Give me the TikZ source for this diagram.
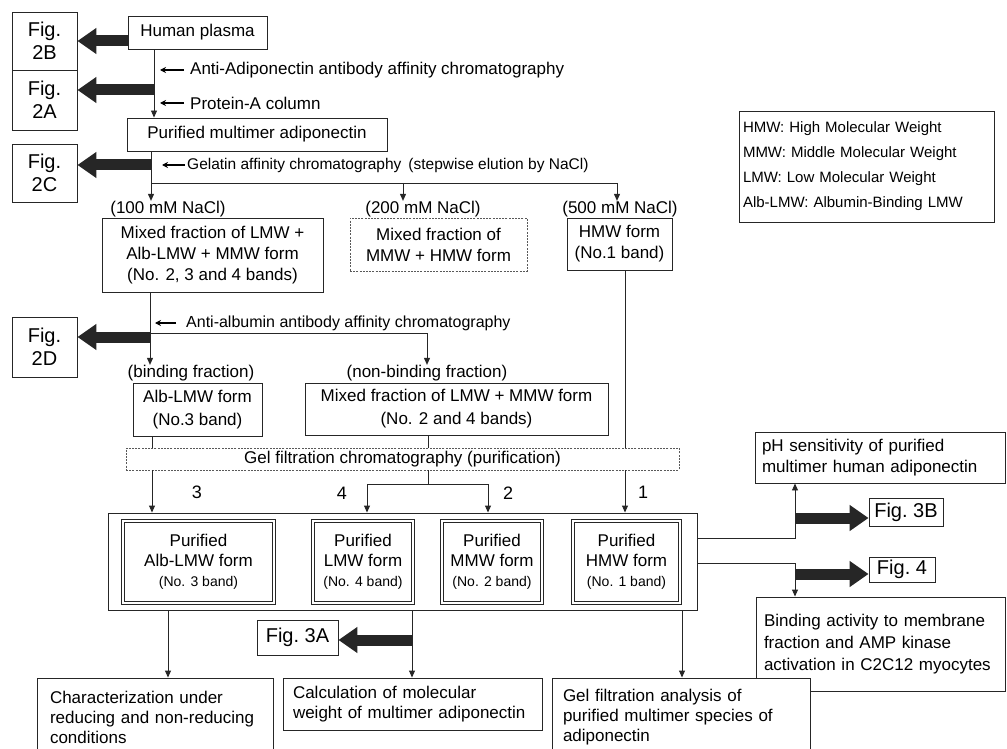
\documentclass[tikz,border=0pt]{standalone}
\usepackage{fontspec}
\setmainfont{Liberation Sans}
\usetikzlibrary{arrows.meta}
\newcommand\fsz[2]{\fontsize{#1pt}{#2pt}\selectfont}
\begin{document}
\begin{tikzpicture}[x=1pt,y=-1pt,
  box/.style={draw=black!85, line width=0.9pt, inner sep=0pt, align=center, fill=white, font=\fsz{17}{21}},
  dbox/.style={box, draw=black!65, dash pattern=on 2pt off 1.2pt},
  pbox/.style={draw=black!85, double, double distance=1.8pt, line width=0.7pt, inner sep=0pt, align=center, fill=white, font=\fsz{17}{20}},
  lbox/.style={box, align=left},
  figbox/.style={box, font=\fsz{20}{23}},
  conn/.style={draw=black!85, line width=0.9pt},
  arr/.style={conn, -{Triangle[length=7pt,width=6pt]}},
  sarr/.style={draw=black, line width=1.3pt, -{Stealth[length=6pt,width=6pt]}},
  fat/.style={draw=black!85, line width=11pt, -{Triangle[length=19pt,width=25pt]}},
  lbl/.style={inner sep=0pt, font=\fsz{17}{20}},
  num/.style={inner sep=0pt, font=\fsz{18}{20}}
]
\useasboundingbox (0,0) rectangle (1007,749);
\clip (0,0) rectangle (1007,749);

% ---- boxes ----
\node[figbox, minimum width=65pt, minimum height=58pt] (fig2B) at (44.5,41) {Fig.\\2B};
\node[figbox, minimum width=65pt, minimum height=60pt] (fig2A) at (44.5,100) {Fig.\\2A};
\node[figbox, minimum width=65pt, minimum height=58pt] (fig2C) at (44.5,173) {Fig.\\2C};
\node[figbox, minimum width=65pt, minimum height=60pt] (fig2D) at (44.5,347) {Fig.\\2D};

\node[box, minimum width=139pt, minimum height=33pt] (plasma) at (197.5,32.5) {Human plasma};
\node[box, minimum width=260pt, minimum height=33pt] (pma) at (257,134.5) {Purified multimer adiponectin};

\node[box, minimum width=221pt, minimum height=74pt, font=\fsz{17}{21}] (mix1) at (212.5,255) {Mixed fraction of LMW +\\Alb-LMW + MMW form\\(No. 2, 3 and 4 bands)};
\node[dbox, minimum width=177pt, minimum height=53pt] (mix200) at (438.5,244.5) {Mixed fraction of\\MMW + HMW form};
\node[box, minimum width=105pt, minimum height=52pt] (hmw) at (619.5,244) {HMW form\\(No.1 band)};

\node[box, minimum width=129pt, minimum height=53pt, font=\fsz{17}{23}] (alb) at (197.5,409.5) {Alb-LMW form\\(No.3 band)};
\node[box, minimum width=303pt, minimum height=52pt, font=\fsz{17}{23}] (mix2) at (456.5,409) {Mixed fraction of LMW + MMW form\\(No. 2 and 4 bands)};

\node[dbox, minimum width=553pt, minimum height=22pt] (gel) at (402.5,459) {Gel filtration chromatography (purification)};

\node[box, minimum width=589pt, minimum height=97pt] (big) at (402.5,561.5) {};
\node[pbox, minimum width=151pt, minimum height=82pt] (palb) at (198.5,562) {Purified\\Alb-LMW form\\{\fsz{14}{20}(No. 3 band)}};
\node[pbox, minimum width=100pt, minimum height=82pt] (plmw) at (363,562) {Purified\\LMW form\\{\fsz{14}{20}(No. 4 band)}};
\node[pbox, minimum width=100pt, minimum height=82pt] (pmmw) at (492,562) {Purified\\MMW form\\{\fsz{14}{20}(No. 2 band)}};
\node[pbox, minimum width=107pt, minimum height=82pt] (phmw) at (626.5,562) {Purified\\HMW form\\{\fsz{14}{20}(No. 1 band)}};

\node[lbox, minimum width=250pt, minimum height=51pt, inner xsep=7pt, text width=236pt] (ph) at (880,457.5) {pH sensitivity of purified\\multimer human adiponectin};
\node[figbox, minimum width=74pt, minimum height=28pt] (fig3B) at (906,512) {Fig.~3B};
\node[figbox, minimum width=66pt, minimum height=25pt] (fig4) at (902,569.5) {Fig.~4};
\node[lbox, minimum width=249pt, minimum height=94pt, inner xsep=8pt, text width=233pt, font=\fsz{17}{22}] (bind) at (880.5,644) {Binding activity to membrane\\fraction and AMP kinase\\activation in C2C12 myocytes};

\node[figbox, minimum width=81pt, minimum height=35pt] (fig3A) at (297.5,637.5) {Fig.~3A};

\node[lbox, minimum width=236pt, minimum height=78pt, inner xsep=13pt, text width=210pt, font=\fsz{17}{20}] (char) at (155,717) {Characterization under\\reducing and non-reducing\\conditions};
\node[lbox, minimum width=259pt, minimum height=52pt, inner xsep=10pt, text width=239pt, font=\fsz{17}{20}] (calc) at (412.5,704) {Calculation of molecular\\weight of multimer adiponectin};
\node[lbox, minimum width=258pt, minimum height=78pt, inner xsep=11pt, text width=236pt, font=\fsz{17}{20}] (gelan) at (681,717) {Gel filtration analysis of\\purified multimer species of\\adiponectin};

\node[lbox, minimum width=255pt, minimum height=111pt, inner xsep=4pt, text width=247pt, font=\fsz{15}{25}] (legend) at (866.5,166.5) {HMW: High Molecular Weight\\MMW: Middle Molecular Weight\\LMW: Low Molecular Weight\\Alb-LMW: Albumin-Binding LMW};

% ---- labels ----
\node[lbl, anchor=west] (t1) at (190,70) {Anti-Adiponectin antibody affinity chromatography};
\node[lbl, anchor=west] (t2) at (190,103) {Protein-A column};
\node[lbl, anchor=west, font=\fsz{15.5}{18}] (t3) at (187,165) {Gelatin affinity chromatography\hspace{7pt}(stepwise elution by NaCl)};
\node[lbl] (n100) at (168,209) {(100 mM NaCl)};
\node[lbl] (n200) at (423,209) {(200 mM NaCl)};
\node[lbl] (n500) at (620,209) {(500 mM NaCl)};
\node[lbl, anchor=west, font=\fsz{16}{18}] (t4) at (186,323) {Anti-albumin antibody affinity chromatography};
\node[lbl] (nbind) at (191,373) {(binding fraction)};
\node[lbl] (nnon) at (427,373) {(non-binding fraction)};
\node[num] (l3) at (197,492) {3};
\node[num] (l4) at (342,493) {4};
\node[num] (l2) at (508,493) {2};
\node[num] (l1) at (643,492) {1};

% ---- coordinates ----
\coordinate (c1) at (154,0);
\coordinate (c1r) at (160,0);
\coordinate (c2) at (151,0);
\coordinate (c2r) at (162,0);
\coordinate (h200) at (403,183);
\coordinate (h500) at (617,183);
\coordinate (c3) at (150,0);
\coordinate (c3r) at (155,0);
\coordinate (hnon) at (427,333);
\coordinate (c4) at (152,0);
\coordinate (c5) at (428,0);
\coordinate (c6) at (625,0);
\coordinate (b4) at (367,484);
\coordinate (b2) at (488,484);
\coordinate (r1) at (795,538);
\coordinate (r2) at (795,563);
\coordinate (f3b) at (795,518);
\coordinate (f4) at (795,574);
\coordinate (c7) at (168,0);
\coordinate (c8) at (412,0);
\coordinate (c9) at (682,0);

% ---- connectors ----
\draw[arr] (plasma.south -| c1) -- (pma.north -| c1);
\draw[fat] (plasma.west |- fig2B.east) -- (fig2B.east);
\draw[fat] (c1 |- 0,90) -- (fig2A.east |- 0,90);
\draw[sarr] ([xshift=-6pt]t1.west) -- (c1r |- t1.west);
\draw[sarr] ([xshift=-6pt]t2.west) -- (c1r |- t2.west);

\draw[arr] (pma.south -| c2) -- (c2 |- n100.north);
\draw[fat] (c2 |- 0,165) -- (fig2C.east |- 0,165);
\draw[sarr] ([xshift=-2pt]t3.west) -- (c2r |- t3.west);
\draw[conn] (c2 |- h500) -- (h500);
\draw[arr] (h200) -- (h200 |- n200.north);
\draw[arr] (h500) -- (h500 |- n500.north);

\draw[arr] (mix1.south -| c3) -- (c3 |- nbind.north);
\draw[fat] (c3 |- 0,337) -- (fig2D.east |- 0,337);
\draw[sarr] ([xshift=-10pt]t4.west) -- (c3r |- t4.west);
\draw[arr] (c3 |- hnon) -- (hnon) -- (hnon |- nnon.north);

\draw[conn] (alb.south -| c4) -- (gel.north -| c4);
\draw[conn] (mix2.south -| c5) -- (gel.north -| c5);
\draw[conn] (hmw.south -| c6) -- (gel.north -| c6);

\draw[arr] (gel.south -| c4) -- (big.north -| c4);
\draw[arr] (gel.south -| c6) -- (big.north -| c6);
\draw[conn] (gel.south -| c5) -- (c5 |- b4);
\draw[conn] (b4) -- (b2);
\draw[arr] (b4) -- (b4 |- big.north);
\draw[arr] (b2) -- (b2 |- big.north);

\draw[arr] (big.east |- r1) -- (r1) -- (r1 |- ph.south);
\draw[arr] (big.east |- r2) -- (r2) -- (r2 |- bind.north);
\draw[fat] (f3b) -- (fig3B.west |- f3b);
\draw[fat] (f4) -- (fig4.west |- f4);

\draw[arr] (big.south -| c7) -- (char.north -| c7);
\draw[arr] (big.south -| c8) -- (calc.north -| c8);
\draw[arr] (big.south -| c9) -- (gelan.north -| c9);
\draw[fat] (c8 |- 0,640) -- (fig3A.east |- 0,640);
\end{tikzpicture}
\end{document}
